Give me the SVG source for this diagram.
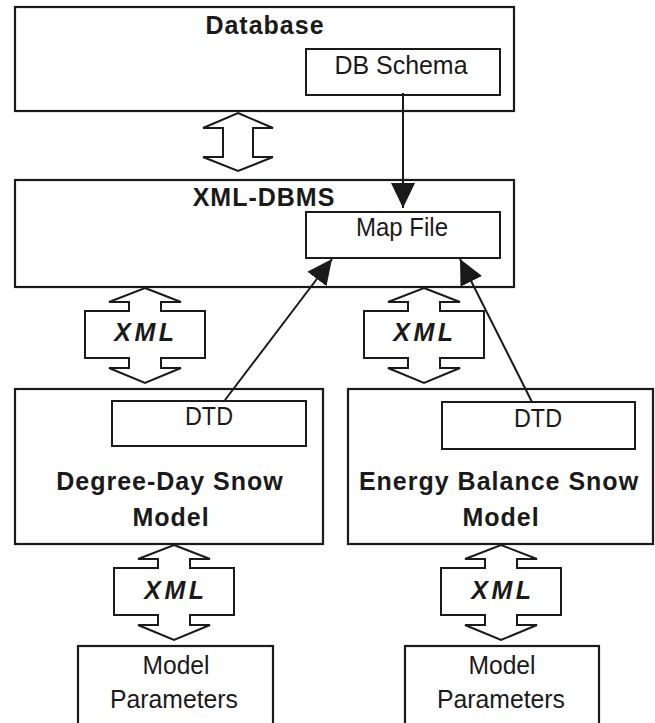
<svg xmlns="http://www.w3.org/2000/svg" width="655" height="723" viewBox="0 0 655 723">
<style>
.box{fill:#fff;stroke:#1a1a1a;stroke-width:2.2}
.inner{fill:#fff;stroke:#1a1a1a;stroke-width:2}
.hollow{fill:#fff;stroke:#1a1a1a;stroke-width:2}
.line{fill:none;stroke:#1a1a1a;stroke-width:2}
.t{font-family:"Liberation Sans",Arial,sans-serif;font-size:26px;fill:#1a1a1a;text-anchor:middle}
.b{font-family:"Liberation Sans",Arial,sans-serif;font-size:25px;font-weight:bold;fill:#1a1a1a;text-anchor:middle;letter-spacing:1px}
.x{font-family:"Liberation Sans",Arial,sans-serif;font-size:25px;font-weight:bold;font-style:italic;fill:#1a1a1a;text-anchor:middle;letter-spacing:3.5px}
</style>
<defs>
<marker id="ah" markerUnits="userSpaceOnUse" markerWidth="26" markerHeight="26" viewBox="0 -13 26 26" refX="25" refY="0" orient="auto">
<path d="M0,-12 L25,0 L0,12 z" fill="#1a1a1a"/>
</marker>
<path id="xmlarrow" d="M0,0 L36,14 L16,14 L16,23 L60,23 L60,70 L16,70 L16,80 L36,80 L0,95 L-36,80 L-16,80 L-16,70 L-60,70 L-60,23 L-16,23 L-16,14 L-36,14 Z"/>
</defs>

<g id="database">
<rect class="box" x="15" y="7" width="499" height="104"/>
<text class="b" x="265" y="34">Database</text>
</g>
<g id="db-schema">
<rect class="inner" x="306" y="49" width="194" height="46"/>
<text class="t" x="401" y="74" textLength="133" lengthAdjust="spacingAndGlyphs">DB Schema</text>
</g>

<g id="xml-dbms">
<rect class="box" x="15" y="180" width="499" height="107"/>
<text class="b" x="264" y="206">XML-DBMS</text>
</g>
<g id="map-file">
<rect class="inner" x="306" y="212" width="194" height="46"/>
<text class="t" x="402" y="236" textLength="92" lengthAdjust="spacingAndGlyphs">Map File</text>
</g>

<g id="degree-day">
<rect class="box" x="15" y="389" width="308" height="155"/>
<text class="b" x="170" y="490">Degree-Day Snow</text>
<text class="b" x="171" y="526">Model</text>
</g>
<g id="dtd-left">
<rect class="inner" x="112" y="401" width="194" height="45"/>
<text class="t" x="209" y="425" textLength="48" lengthAdjust="spacingAndGlyphs">DTD</text>
</g>

<g id="energy-balance">
<rect class="box" x="348" y="389" width="305" height="155"/>
<text class="b" x="499" y="490">Energy Balance Snow</text>
<text class="b" x="501" y="526">Model</text>
</g>
<g id="dtd-right">
<rect class="inner" x="442" y="402" width="193" height="47"/>
<text class="t" x="538" y="427" textLength="48" lengthAdjust="spacingAndGlyphs">DTD</text>
</g>

<g id="params-left">
<rect class="box" x="78" y="646" width="195" height="90"/>
<text class="t" x="176" y="674" textLength="67" lengthAdjust="spacingAndGlyphs">Model</text>
<text class="t" x="174" y="708" textLength="128" lengthAdjust="spacingAndGlyphs">Parameters</text>
</g>
<g id="params-right">
<rect class="box" x="405" y="646" width="194" height="90"/>
<text class="t" x="502" y="674" textLength="67" lengthAdjust="spacingAndGlyphs">Model</text>
<text class="t" x="501" y="708" textLength="128" lengthAdjust="spacingAndGlyphs">Parameters</text>
</g>

<g id="connectors">
<polygon class="hollow" points="238,113 273,128 253,128 253,157 273,157 238,171 203,157 223,157 223,128 203,128"/>
<use href="#xmlarrow" class="hollow" x="145" y="288"/>
<text class="x" x="146" y="341">XML</text>
<use href="#xmlarrow" class="hollow" x="424" y="288"/>
<text class="x" x="425" y="341">XML</text>
<use href="#xmlarrow" class="hollow" x="174" y="545"/>
<text class="x" x="176" y="599">XML</text>
<use href="#xmlarrow" class="hollow" x="501" y="545"/>
<text class="x" x="503" y="599">XML</text>
<line class="line" x1="403" y1="93" x2="403" y2="208" marker-end="url(#ah)"/>
<line class="line" x1="225" y1="400" x2="332" y2="259" marker-end="url(#ah)"/>
<line class="line" x1="532" y1="402" x2="460" y2="259" marker-end="url(#ah)"/>
</g>
</svg>
